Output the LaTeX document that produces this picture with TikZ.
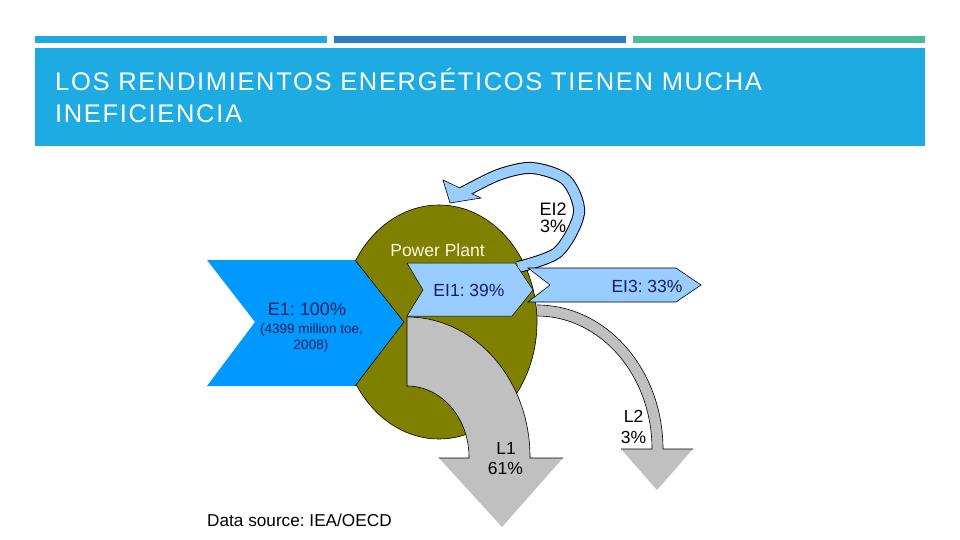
\documentclass[tikz,border=0pt]{standalone}
\usepackage{fontspec}
\setmainfont{Liberation Sans}
\newfontfamily\titlefont[LetterSpace=6.5]{Liberation Sans}
\frenchspacing
\definecolor{hdr}{RGB}{30,171,226}
\definecolor{barone}{RGB}{32,168,224}
\definecolor{bartwo}{RGB}{42,125,192}
\definecolor{barthree}{RGB}{75,185,155}
\definecolor{plant}{RGB}{128,128,0}
\definecolor{eblue}{RGB}{0,153,255}
\definecolor{lblue}{RGB}{153,204,255}
\definecolor{lgrey}{RGB}{192,192,192}
\definecolor{navy}{RGB}{22,32,88}
\definecolor{offwhite}{RGB}{252,248,228}
\tikzset{
  lbl/.style={inner sep=0pt, anchor=base},
  big/.style={font=\fontsize{18}{20}\selectfont},
  mid/.style={font=\fontsize{17.5}{20}\selectfont},
  small/.style={font=\fontsize{13.5}{15}\selectfont},
  edge/.style={draw=black, line width=0.6pt},
}
\begin{document}
\begin{tikzpicture}[x=1pt,y=-1pt]
\useasboundingbox (0,0) rectangle (960,540);
\fill[white] (0,0) rectangle (960,540);
% header
\fill[barone] (35,36) rectangle (327,43);
\fill[bartwo] (334,36) rectangle (626,43);
\fill[barthree] (633,36) rectangle (925,43);
\fill[hdr] (35,48) rectangle (925,146);
\node[lbl, anchor=base west, text=white, font=\titlefont\fontsize{25.5}{30}\selectfont] (t1) at (55,91) {LOS RENDIMIENTOS ENERGÉTICOS TIENEN MUCHA};
\node[lbl, anchor=base west, text=white, font=\titlefont\fontsize{25.5}{30}\selectfont] (t2) at (55,123) {INEFICIENCIA};
% L2 band (behind plant)
\fill[lgrey] (537,305) arc[start angle=-90, end angle=0, x radius=126, y radius=144]
  -- (693,449) -- (657,490) -- (621,449) -- (652,449)
  arc[start angle=0, end angle=-90, x radius=115, y radius=133] -- cycle;
\draw[edge] (537,305) arc[start angle=-90, end angle=0, x radius=126, y radius=144] -- (693,449);
\draw[edge] (621,449) -- (652,449) arc[start angle=0, end angle=-90, x radius=115, y radius=133];
% power plant
\filldraw[fill=plant, edge] (439,322) ellipse[x radius=98, y radius=117];
% EI2 loop
\draw[line width=12pt, black] plot[smooth] coordinates {(518,267) (558,252) (579,213) (566,180) (532,168) (498,175) (460,194)};
\filldraw[fill=lblue, draw=black, line width=0.6pt] (443,180) -- (450,203) -- (481,198) -- cycle;
\draw[line width=10pt, lblue] plot[smooth] coordinates {(518,267) (558,252) (579,213) (566,180) (532,168) (498,175) (460,194)};
% E1
\fill[eblue] (207,260) -- (355,260) -- (404,322) -- (355,386) -- (207,386) -- (255,322) -- cycle;
\draw[edge] (355,260) -- (404,322) -- (355,386);
% L1
\fill[lgrey] (407,317) -- (407,386) arc[start angle=-90, end angle=0, x radius=62, y radius=71]
  -- (469,458) -- (439,458) -- (502,527) -- (563,458) -- (530,458) -- (530,457)
  arc[start angle=0, end angle=-90, x radius=123, y radius=140] -- cycle;
\draw[edge] (407,317) -- (407,386) arc[start angle=-90, end angle=0, x radius=62, y radius=71] -- (469,458) -- (439,458);
\draw[edge] (563,458) -- (530,458) -- (530,457) arc[start angle=0, end angle=-90, x radius=123, y radius=140];
% EI1 and EI3
\filldraw[fill=lblue, draw=black, line width=0.5pt] (407,263) -- (515,263) -- (533,290) -- (512,316) -- (407,316) -- (423,290) -- cycle;
\filldraw[fill=lblue, draw=black, line width=0.6pt] (528,268) -- (676,268) -- (701,285) -- (676,302) -- (528,302) -- (550,285) -- cycle;
% labels
\node[lbl, mid, text=offwhite] (pp) at (437.5,256) {Power Plant};
\node[lbl, big, text=navy] (e1) at (307,315) {E1: 100\%};
\node[lbl, small, text=navy] (e1a) at (311.5,333.5) {(4399 million toe,};
\node[lbl, small, text=navy] (e1b) at (311,349) {2008)};
\node[lbl, mid, text=navy] (ei1) at (469,296) {EI1: 39\%};
\node[lbl, mid, text=navy] (ei3) at (647,292.5) {EI3: 33\%};
\node[lbl, big] (ei2a) at (553,215) {EI2};
\node[lbl, big] (ei2b) at (553,232.5) {3\%};
\node[lbl, mid] (l1a) at (506,454) {L1};
\node[lbl, mid] (l1b) at (505.5,474) {61\%};
\node[lbl, mid] (l2a) at (633.5,422) {L2};
\node[lbl, mid] (l2b) at (633.5,443) {3\%};
\node[lbl, anchor=base west, font=\fontsize{17.2}{20}\selectfont] (src) at (207,526) {Data source: IEA/OECD};
\end{tikzpicture}
\end{document}
